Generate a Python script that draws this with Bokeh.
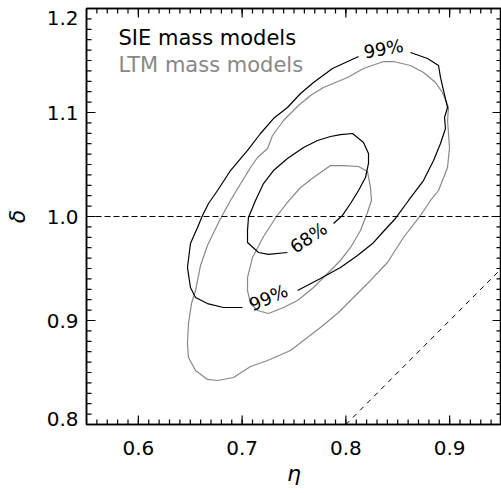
from bokeh.plotting import figure
from bokeh.models import (LinearAxis, FixedTicker, CustomJSTickFormatter,
                          Label, Span, Slope)
from bokeh.embed import file_html
from bokeh.resources import INLINE

# ---- data (eta, delta) ----
# SIE 99% contour, two pieces (gaps for the labels)
sie99a_eta = [0.8623, 0.8787, 0.8893, 0.8912, 0.8941, 0.8980, 0.8951, 0.8960, 0.8912, 0.8845,
              0.8748, 0.8604, 0.8478, 0.8353, 0.8257, 0.8112, 0.7948, 0.7755, 0.7534]
sie99a_del = [1.1577, 1.1519, 1.1452, 1.1337, 1.1212, 1.1048, 1.0952, 1.0846, 1.0702, 1.0538,
              1.0346, 1.0154, 0.9981, 0.9846, 0.9740, 0.9625, 0.9510, 0.9404, 0.9288]
sie99b_eta = [0.7004, 0.6820, 0.6666, 0.6551, 0.6502, 0.6473, 0.6502, 0.6570, 0.6618, 0.6676,
              0.6763, 0.6888, 0.7052, 0.7177, 0.7302, 0.7437, 0.7563, 0.7688, 0.7871, 0.8122]
sie99b_del = [0.9125, 0.9125, 0.9163, 0.9221, 0.9317, 0.9510, 0.9740, 0.9894, 1.0010, 1.0125,
              1.0250, 1.0442, 1.0635, 1.0798, 1.0942, 1.1048, 1.1183, 1.1288, 1.1423, 1.1538]
# SIE 68% contour (gap for the label)
sie68_eta = [0.7881, 0.7967, 0.8045, 0.8122, 0.8189, 0.8218, 0.8218, 0.8170, 0.8064, 0.7948,
             0.7852, 0.7727, 0.7592, 0.7437, 0.7302, 0.7206, 0.7129, 0.7061, 0.7052, 0.7052,
             0.7158, 0.7254, 0.7437]
sie68_del = [0.9933, 1.0010, 1.0125, 1.0250, 1.0375, 1.0510, 1.0606, 1.0712, 1.0798, 1.0788,
             1.0769, 1.0731, 1.0663, 1.0558, 1.0442, 1.0317, 1.0154, 0.9990, 0.9865, 0.9750,
             0.9654, 0.9635, 0.9654]
# LTM 99% contour (closed)
ltm99_eta = [0.8459, 0.8623, 0.8748, 0.8864, 0.8931, 0.8989, 0.8980, 0.8999, 0.8980, 0.8893,
             0.8816, 0.8719, 0.8555, 0.8401, 0.8237, 0.8073, 0.7929, 0.7755, 0.7466, 0.7245,
             0.7081, 0.6917, 0.6763, 0.6666, 0.6551, 0.6483, 0.6473, 0.6483, 0.6512, 0.6551,
             0.6599, 0.6666, 0.6782, 0.6888, 0.7004, 0.7081, 0.7148, 0.7245, 0.7293, 0.7399,
             0.7543, 0.7659, 0.7784, 0.8016, 0.8170, 0.8363, 0.8459]
ltm99_del = [1.1490, 1.1452, 1.1385, 1.1288, 1.1192, 1.1048, 1.0923, 1.0663, 1.0471, 1.0250,
             1.0154, 1.0010, 0.9798, 0.9558, 0.9385, 0.9221, 0.9077, 0.8933, 0.8712, 0.8615,
             0.8558, 0.8452, 0.8423, 0.8433, 0.8519, 0.8644, 0.8779, 0.8971, 0.9163, 0.9288,
             0.9529, 0.9721, 0.9962, 1.0154, 1.0346, 1.0471, 1.0567, 1.0654, 1.0779, 1.0923,
             1.1067, 1.1163, 1.1240, 1.1337, 1.1423, 1.1490, 1.1490]
# LTM 68% contour (closed)
ltm68_eta = [0.7977, 0.8122, 0.8208, 0.8237, 0.8247, 0.8208, 0.8141, 0.8045, 0.7948, 0.7823,
             0.7688, 0.7534, 0.7399, 0.7254, 0.7148, 0.7081, 0.7052, 0.7052, 0.7100, 0.7206,
             0.7331, 0.7437, 0.7563, 0.7688, 0.7852, 0.7977]
ltm68_del = [1.0490, 1.0481, 1.0433, 1.0279, 1.0154, 1.0038, 0.9865, 0.9702, 0.9577, 0.9452,
             0.9317, 0.9192, 0.9125, 0.9067, 0.9096, 0.9163, 0.9288, 0.9413, 0.9606, 0.9808,
             1.0000, 1.0135, 1.0279, 1.0375, 1.0490, 1.0490]

# ticks
x_major = [0.6, 0.7, 0.8, 0.9]
y_major = [0.8, 0.9, 1.0, 1.1, 1.2]
x_minor = [round(0.55 + 0.01 * i, 2) for i in range(41)]
y_minor = [round(0.80 + 0.01 * i, 2) for i in range(41)]

X0, X1 = 0.55, 0.95
Y0, Y1 = 0.80, 1.20
PX_X = 1037.5   # frame pixels per unit eta
PX_Y = 1040.0   # frame pixels per unit delta
MAJ, MIN = 9, 5  # tick lengths (px)

FONT = "DejaVu Sans"

p = figure(width=501, height=493, x_range=(X0, X1), y_range=(Y0, Y1),
           output_backend="svg", toolbar_location=None,
           x_axis_location=None, y_axis_location=None,
           min_border_left=86, min_border_right=0, min_border_top=8, min_border_bottom=69)
p.grid.visible = False
p.outline_line_color = "black"
p.outline_line_width = 1.5
p.background_fill_color = "white"
p.border_fill_color = "white"

one_decimal = CustomJSTickFormatter(code="return (Math.round(tick * 10) / 10).toFixed(1);")


def make_axis(ticks, labelled, axis_label=None, standoff=8, label_standoff=4):
    ax = LinearAxis(ticker=FixedTicker(ticks=ticks))
    if labelled:
        ax.formatter = one_decimal
        ax.major_label_text_font = FONT
        ax.major_label_text_font_size = "20px"
        ax.major_label_text_color = "black"
        ax.major_label_standoff = standoff
    else:
        ax.formatter = CustomJSTickFormatter(code="return ''")
        ax.major_label_standoff = 0
        ax.major_label_text_font_size = "1px"
    if axis_label is not None:
        ax.axis_label = axis_label
        ax.axis_label_text_font = FONT
        ax.axis_label_text_font_size = "22px"
        ax.axis_label_text_font_style = "italic"
        ax.axis_label_text_color = "black"
        ax.axis_label_standoff = label_standoff
    ax.major_tick_in = 0
    ax.major_tick_out = 0
    ax.minor_tick_in = 0
    ax.minor_tick_out = 0
    ax.axis_line_width = 1.5
    return ax


# the end labels of the delta axis sit slightly inside the frame, as in the reference
y_label_pos = [y_major[0] + 0.005] + y_major[1:-1] + [y_major[-1] - 0.009]

p.add_layout(make_axis(x_major, True, "η", standoff=16, label_standoff=3), "below")
p.add_layout(make_axis(y_label_pos, True, "δ", standoff=8, label_standoff=14), "left")
p.add_layout(make_axis(x_major, False), "above")
p.add_layout(make_axis(y_major, False), "right")

# inward tick marks drawn as short segments from each frame edge
TW = 1.2
for xs, L in [(x_minor, MIN), (x_major, MAJ)]:
    n = len(xs)
    p.segment(x0=xs, y0=[Y0] * n, x1=xs, y1=[Y0 + L / PX_Y] * n, line_color="black", line_width=TW)
    p.segment(x0=xs, y0=[Y1] * n, x1=xs, y1=[Y1 - L / PX_Y] * n, line_color="black", line_width=TW)
for ys, L in [(y_minor, MIN), (y_major, MAJ)]:
    n = len(ys)
    p.segment(x0=[X0] * n, y0=ys, x1=[X0 + L / PX_X] * n, y1=ys, line_color="black", line_width=TW)
    p.segment(x0=[X1] * n, y0=ys, x1=[X1 - L / PX_X] * n, y1=ys, line_color="black", line_width=TW)

# reference lines
p.add_layout(Span(location=1.0, dimension="width", line_color="black",
                  line_dash="6 3", line_width=1))
p.add_layout(Slope(gradient=1, y_intercept=0, line_color="black",
                   line_dash="5 5", line_width=1))

GRAY = "#888888"
LW = 1.2
p.line(ltm99_eta, ltm99_del, line_color=GRAY, line_width=LW)
p.line(ltm68_eta, ltm68_del, line_color=GRAY, line_width=LW)
p.line(sie99a_eta, sie99a_del, line_color="black", line_width=LW)
p.line(sie99b_eta, sie99b_del, line_color="black", line_width=LW)
p.line(sie68_eta, sie68_del, line_color="black", line_width=LW)

# contour labels
for txt, x, y, ang in [("99%", 0.8363, 1.1615, 10), ("99%", 0.7254, 0.9221, 24),
                       ("68%", 0.7640, 0.9798, 34)]:
    p.add_layout(Label(x=x, y=y, text=txt, angle=ang, angle_units="deg",
                       text_align="center", text_baseline="middle",
                       text_font=FONT, text_font_size="18px", text_color="black"))

# legend texts
p.add_layout(Label(x=0.5808, y=1.1721, text="SIE mass models", text_font=FONT,
                   text_font_size="21px", text_color="black", text_baseline="middle"))
p.add_layout(Label(x=0.5808, y=1.1452, text="LTM mass models", text_font=FONT,
                   text_font_size="21px", text_color=GRAY, text_baseline="middle"))

open("out.html", "w").write(file_html(p, INLINE))
